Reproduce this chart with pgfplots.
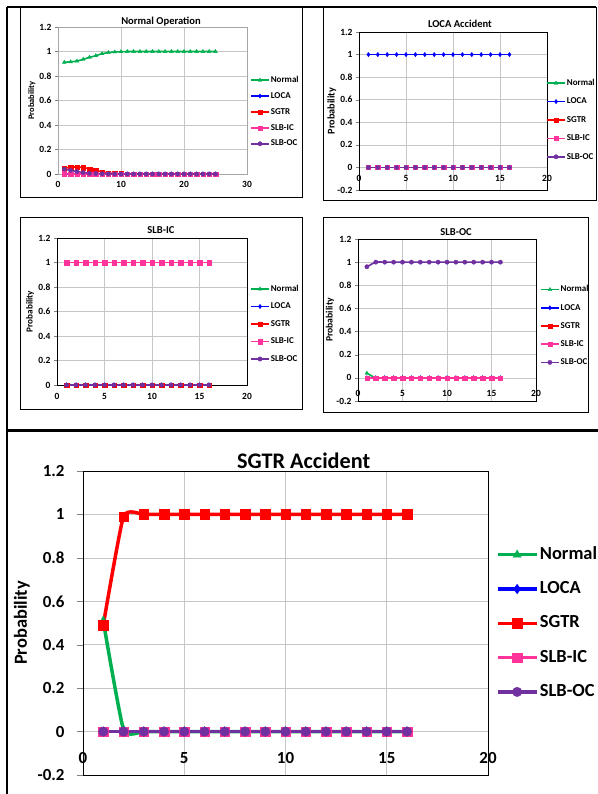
\documentclass[border=0pt]{standalone}
\usepackage{fontspec}
\setmainfont{Carlito}
\usepackage{pgfplots}
\usepackage{pgfplotstable}
\pgfplotsset{compat=1.18}

\definecolor{cNormal}{RGB}{0,176,80}
\definecolor{cLoca}{RGB}{0,0,255}
\definecolor{cSgtr}{RGB}{255,0,0}
\definecolor{cSlbic}{RGB}{255,51,153}
\definecolor{cSlboc}{RGB}{112,48,160}

% Normal operation, 25 steps
\pgfplotstableread{
x  normal loca sgtr  slbic slboc
1  0.912  0    0.048 0.002 0.040
2  0.916  0    0.055 0.001 0.030
3  0.922  0    0.058 0     0.020
4  0.936  0    0.052 0     0.012
5  0.952  0    0.042 0     0.006
6  0.966  0    0.030 0     0.004
7  0.982  0    0.017 0     0.002
8  0.991  0    0.008 0     0.001
9  0.996  0    0.004 0     0
10 0.998  0    0.002 0     0
11 1      0    0     0     0
12 1      0    0     0     0
13 1      0    0     0     0
14 1      0    0     0     0
15 1      0    0     0     0
16 1      0    0     0     0
17 1      0    0     0     0
18 1      0    0     0     0
19 1      0    0     0     0
20 1      0    0     0     0
21 1      0    0     0     0
22 1      0    0     0     0
23 1      0    0     0     0
24 1      0    0     0     0
25 1      0    0     0     0
}\tNormal

\pgfplotstableread{
x  normal loca sgtr slbic slboc
1  0 1 0 0 0
2  0 1 0 0 0
3  0 1 0 0 0
4  0 1 0 0 0
5  0 1 0 0 0
6  0 1 0 0 0
7  0 1 0 0 0
8  0 1 0 0 0
9  0 1 0 0 0
10 0 1 0 0 0
11 0 1 0 0 0
12 0 1 0 0 0
13 0 1 0 0 0
14 0 1 0 0 0
15 0 1 0 0 0
16 0 1 0 0 0
}\tLoca

\pgfplotstableread{
x  normal loca sgtr slbic slboc
1  0 0 0 1 0
2  0 0 0 1 0
3  0 0 0 1 0
4  0 0 0 1 0
5  0 0 0 1 0
6  0 0 0 1 0
7  0 0 0 1 0
8  0 0 0 1 0
9  0 0 0 1 0
10 0 0 0 1 0
11 0 0 0 1 0
12 0 0 0 1 0
13 0 0 0 1 0
14 0 0 0 1 0
15 0 0 0 1 0
16 0 0 0 1 0
}\tSlbic

\pgfplotstableread{
x  normal loca sgtr slbic slboc
1  0.04 0 0 0 0.96
2  0    0 0 0 1
3  0    0 0 0 1
4  0    0 0 0 1
5  0    0 0 0 1
6  0    0 0 0 1
7  0    0 0 0 1
8  0    0 0 0 1
9  0    0 0 0 1
10 0    0 0 0 1
11 0    0 0 0 1
12 0    0 0 0 1
13 0    0 0 0 1
14 0    0 0 0 1
15 0    0 0 0 1
16 0    0 0 0 1
}\tSlboc

\pgfplotstableread{
x  normal loca sgtr slbic slboc
1  0.51 0 0.49 0 0
2  0.01 0 0.99 0 0
3  0    0 1    0 0
4  0    0 1    0 0
5  0    0 1    0 0
6  0    0 1    0 0
7  0    0 1    0 0
8  0    0 1    0 0
9  0    0 1    0 0
10 0    0 1    0 0
11 0    0 1    0 0
12 0    0 1    0 0
13 0    0 1    0 0
14 0    0 1    0 0
15 0    0 1    0 0
16 0    0 1    0 0
}\tSgtr

\pgfplotsset{
  chart/.style={
    scale only axis, anchor=south west, xmin=0,
    grid=major, grid style={line width=0.6bp, gray!45},
    tick align=outside, major tick length=3bp,
    xtick style={draw=none}, ytick pos=left, xtick pos=bottom,
    /pgf/number format/assume math mode=true,
    ylabel=Probability,
    legend cell align=left,
    legend style={draw=none, fill=none, anchor=west, inner sep=0pt, column sep=0bp},
    every axis plot/.append style={smooth, tension=0.3, mark options={solid, line width=0.3bp}},
  },
  smallchart/.style={
    chart,
    tick label style={font=\fontsize{9.5}{10}\selectfont\bfseries},
    title style={font=\fontsize{10.6}{12}\selectfont\bfseries, anchor=center},
    ylabel style={anchor=center},
    legend style={font=\fontsize{9}{10}\selectfont\bfseries,
      nodes={inner sep=1bp, text height=6.2bp, text depth=1.8bp}},
    every axis plot/.append style={line width=1.6bp, mark size=2.2bp},
    legend image code/.code={\draw[mark repeat=2,mark phase=2,##1]
      plot coordinates {(0bp,0bp)(9bp,0bp)(18bp,0bp)};},
  },
  bigchart/.style={
    chart, major tick length=6bp,
    tick label style={font=\fontsize{17}{18}\selectfont\bfseries},
    yticklabel style={xshift=-9bp},
    title style={font=\fontsize{22.3}{24}\selectfont\bfseries, anchor=center},
    ylabel style={font=\fontsize{18.5}{20}\selectfont\bfseries, anchor=center},
    legend style={font=\fontsize{18.5}{20}\selectfont\bfseries,
      nodes={inner sep=1.5bp, text height=13bp, text depth=4bp}},
    every axis plot/.append style={line width=3.5bp, mark size=4.8bp},
    legend image code/.code={\draw[mark repeat=2,mark phase=2,##1]
      plot coordinates {(0bp,0bp)(19.5bp,0bp)(39bp,0bp)};},
  },
  yfull/.style={ymin=-0.2, ymax=1.2, ytick={-0.2,0,0.2,0.4,0.6,0.8,1,1.2}},
  ypos/.style={ymin=0, ymax=1.2, ytick={0,0.2,0.4,0.6,0.8,1,1.2}},
  pN/.style={cNormal, mark=triangle*},
  pL/.style={cLoca, mark=diamond*},
  pS/.style={cSgtr, mark=square*},
  pI/.style={cSlbic, mark=square*},
  pO/.style={cSlboc, mark=*},
}

\newcommand{\fiveplots}[1]{%
  \addplot[pN] table[x=x,y=normal]{#1}; \addlegendentry{Normal}
  \addplot[pL] table[x=x,y=loca]{#1}; \addlegendentry{LOCA}
  \addplot[pS] table[x=x,y=sgtr]{#1}; \addlegendentry{SGTR}
  \addplot[pI] table[x=x,y=slbic]{#1}; \addlegendentry{SLB-IC}
  \addplot[pO] table[x=x,y=slboc]{#1}; \addlegendentry{SLB-OC}
}

\begin{document}
\begin{tikzpicture}
\useasboundingbox (0,0) rectangle (598bp,-794bp);

% panel frames
\draw[line width=2bp] (7bp,-7bp) -- (596bp,-7bp);
\draw[line width=1.6bp] (7bp,-7bp) -- (7bp,-429bp);
\draw[line width=3bp] (6bp,-430bp) -- (598bp,-430bp);
\draw[line width=1.6bp] (7bp,-430bp) -- (7bp,-794bp);
\draw[line width=1bp] (20bp,-7bp) rectangle (302bp,-197bp);
\draw[line width=1bp] (323bp,-7bp) rectangle (596bp,-200bp);
\draw[line width=1bp] (20bp,-217bp) rectangle (302bp,-409bp);
\draw[line width=1bp] (323bp,-217bp) rectangle (588bp,-412bp);

% Normal Operation
\begin{axis}[smallchart, ypos, at={(58bp,-174bp)}, width=189bp, height=147bp,
  xmax=30, xtick={0,10,20,30},
  axis line style={gray!70},
  title={Normal Operation}, title style={at={(0.545,1)}, yshift=-1bp},
  ylabel style={at={(axis description cs:-0.138,0.5)}, font=\fontsize{8.5}{9}\selectfont\bfseries},
  xticklabel style={anchor=center, yshift=-7.5bp},
  legend style={at={(axis description cs:1.016,0.422)}, row sep=5.9bp}]
\fiveplots{\tNormal}
\end{axis}

% LOCA Accident
\begin{axis}[smallchart, yfull, at={(359bp,-190bp)}, width=188bp, height=158bp,
  xmax=20, xtick={0,5,10,15,20},
  title={LOCA Accident}, title style={at={(0.537,1)}, yshift=2bp},
  ylabel style={at={(axis description cs:-0.144,0.5)}, font=\fontsize{10.3}{11}\selectfont\bfseries},
  xticklabel style={anchor=center, yshift=14.5bp},
  legend style={at={(axis description cs:0.995,0.443)}, row sep=8.4bp}]
\fiveplots{\tLoca}
\end{axis}

% SLB-IC
\begin{axis}[smallchart, ypos, at={(57bp,-385bp)}, width=190bp, height=147bp,
  xmax=20, xtick={0,5,10,15,20},
  title={SLB-IC}, title style={at={(0.547,1)}, yshift=2bp},
  ylabel style={at={(axis description cs:-0.142,0.5)}, font=\fontsize{9.2}{10}\selectfont\bfseries},
  xticklabel style={anchor=center, yshift=-8.5bp},
  legend style={at={(axis description cs:1.016,0.415)}, row sep=7.5bp}]
\fiveplots{\tSlbic}
\end{axis}

% SLB-OC
\begin{axis}[smallchart, yfull, at={(358bp,-401bp)}, width=178bp, height=162bp,
  xmax=20, xtick={0,5,10,15,20},
  title={SLB-OC}, title style={at={(0.551,1)}, yshift=1bp},
  ylabel style={at={(axis description cs:-0.157,0.5)}, font=\fontsize{9.7}{10}\selectfont\bfseries},
  xticklabel style={anchor=center, yshift=11bp},
  legend style={at={(axis description cs:1.022,0.463)}, row sep=8.2bp}]
\fiveplots{\tSlboc}
\end{axis}

% SGTR Accident
\begin{axis}[bigchart, yfull, at={(83bp,-775bp)}, width=405bp, height=304bp,
  xmax=20, xtick={0,5,10,15,20},
  title={SGTR Accident}, title style={at={(0.545,1)}, yshift=4.3bp},
  ylabel style={at={(axis description cs:-0.151,0.5)}},
  xticklabel style={anchor=center, yshift=23bp},
  legend style={at={(axis description cs:1.019,0.499)}, row sep=14.3bp}]
\fiveplots{\tSgtr}
\end{axis}
\end{tikzpicture}
\end{document}
